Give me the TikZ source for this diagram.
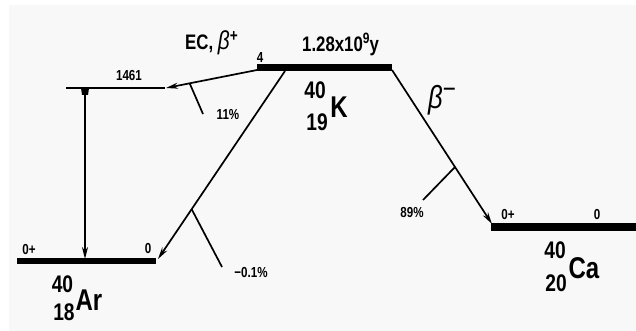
\documentclass[tikz,border=0pt]{standalone}
\usepackage{fontspec}
\setmainfont{Liberation Sans}[FakeStretch=0.8]
\usetikzlibrary{arrows.meta,calc}
\definecolor{bg}{RGB}{248,248,248}
\tikzset{
  lvl/.style={line width=7pt},
  thinlvl/.style={line width=2pt},
  trans/.style={line width=1.7pt, -{Stealth[length=12pt,width=6pt]}},
  tick/.style={line width=1.7pt},
  small/.style={inner sep=0pt, font=\bfseries\fontsize{14.5}{14.5}\selectfont},
  mid/.style={inner sep=0pt, font=\bfseries\fontsize{21}{21}\selectfont},
  num/.style={inner sep=0pt, font=\bfseries\fontsize{24}{24}\selectfont},
  elem/.style={inner sep=0pt, font=\bfseries\fontsize{30}{30}\selectfont},
}
\begin{document}
\begin{tikzpicture}[x=1pt,y=-1pt]
\useasboundingbox (0,0) rectangle (636,331);
\fill[bg] (9,5) rectangle (636,331);

% level end points
\coordinate (K1) at (257,68);
\coordinate (K2) at (392,68);
\coordinate (E1) at (66,88);
\coordinate (E2) at (165,88);
\coordinate (A1) at (17,261);
\coordinate (A2) at (156,261);
\coordinate (C1) at (491,227);
\coordinate (C2) at (636,227);

% levels
\draw[lvl] (K1) -- (K2);
\draw[thinlvl] (E1) -- (E2);
\draw[line width=6pt] (A1) -- (A2);
\draw[line width=8pt] (C1) -- (C2);

% transition end points
\coordinate (ECs) at (257,70);
\coordinate (ECe) at (166,88);
\coordinate (Ds) at (285,71);
\coordinate (De) at (158,259);
\coordinate (Bs) at (392,70);
\coordinate (Be) at (492,224);
\coordinate (Gs) at (85,94);
\coordinate (Ge) at (85,259);
\coordinate (T1) at (203,114);
\coordinate (T2) at (222,267);
\coordinate (T3) at (423,200);

% transitions
\draw[trans] (ECs) -- (ECe);
\draw[trans] (Ds) -- (De);
\draw[trans] (Bs) -- (Be);
\draw[trans] (Gs) -- (Ge);
\fill (81,88) -- (89,88) -- (88,95) -- (82,95) -- cycle;

% branching ticks
\draw[tick] ($(ECs)!0.74!(ECe)$) -- (T1);
\draw[tick] ($(Ds)!0.735!(De)$) -- (T2);
\draw[tick] ($(Bs)!0.63!(Be)$) -- (T3);

% small labels
\node[small] (l4) at (260,58) {4};
\node[small] (l1461) at (129,76) {1461};
\node[small] (l11) at (228,115) {11\%};
\node[small] (l01) at (251,273) {−0.1\%};
\node[small] (l89) at (412,213) {89\%};
\node[small] (ar0) at (148,249) {0};
\node[small] (ar0p) at (29,250) {0+};
\node[small] (ca0p) at (508,215) {0+};
\node[small] (ca0) at (597,215) {0};

% medium labels
\node[mid, anchor=base west] (ec) at (185,50) {EC, {\mdseries\itshape\fontsize{26}{26}\selectfont β}\raisebox{8pt}{\fontsize{17}{17}\selectfont +}};
\node[mid, anchor=base west] (hl) at (302,52) {1.28x10\raisebox{8pt}{\fontsize{15}{15}\selectfont 9}y};
\node[mid, anchor=base west, font=\fontsize{32}{32}\selectfont] (bm) at (428,109) {{\itshape β}\raisebox{10pt}{\fontsize{28}{28}\selectfont −}};

% isotope labels
\node[num] (kA) at (315,90) {40};
\node[num] (kZ) at (317,122) {19};
\node[elem] (kX) at (339,107) {K};
\node[num] (aA) at (62.5,284) {40};
\node[num] (aZ) at (64,312) {18};
\node[elem] (aX) at (89,300) {Ar};
\node[num] (cA) at (555,250) {40};
\node[num] (cZ) at (556,283) {20};
\node[elem] (cX) at (584,268) {Ca};
\end{tikzpicture}
\end{document}
